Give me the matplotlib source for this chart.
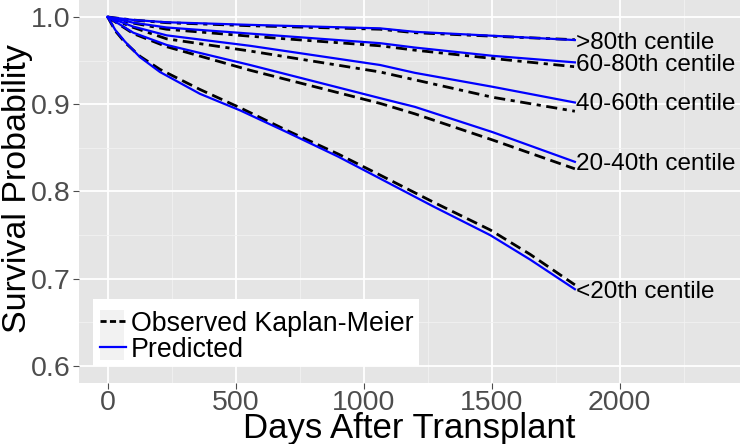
import matplotlib
matplotlib.use("Agg")
import matplotlib.pyplot as plt
from matplotlib.ticker import MultipleLocator
from matplotlib.patches import Rectangle

plt.rcParams['font.family'] = ['Liberation Sans', 'DejaVu Sans']

# days after transplant (shared grid)
days = [0, 100, 230, 556, 1064, 1200, 1504, 1825]

# predicted survival by centile group
pred_80 = [1.0, 0.9966, 0.994, 0.991, 0.987, 0.983, 0.9785, 0.9736]
pred_60 = [1.0, 0.9935, 0.988, 0.981, 0.970, 0.965, 0.9555, 0.948]
pred_40 = [1.0, 0.989, 0.979, 0.967, 0.945, 0.936, 0.920, 0.902]
pred_20 = [1.0, 0.982, 0.968, 0.945, 0.907, 0.897, 0.868, 0.834]

# observed Kaplan-Meier
obs_80 = [1.0, 0.9965, 0.9935, 0.990, 0.986, 0.982, 0.978, 0.974]
obs_60 = [1.0, 0.993, 0.986, 0.978, 0.967, 0.962, 0.9525, 0.943]
obs_40 = [1.0, 0.988, 0.975, 0.961, 0.937, 0.928, 0.908, 0.892]
obs_20 = [1.0, 0.981, 0.966, 0.939, 0.901, 0.889, 0.859, 0.826]

# lowest group has its own finer grid
days_low = [0, 30, 67, 126, 204, 360, 517, 700, 900, 1063, 1271, 1494, 1650, 1825]
pred_low = [1.0, 0.985, 0.972, 0.954, 0.937, 0.912, 0.893, 0.868, 0.840, 0.815,
            0.783, 0.750, 0.722, 0.688]
obs_low = [1.0, 0.984, 0.971, 0.955, 0.940, 0.917, 0.896, 0.870, 0.843, 0.819,
           0.788, 0.756, 0.728, 0.693]

labels = ['>80th centile', '60-80th centile', '40-60th centile',
          '20-40th centile', '<20th centile']
label_y = [0.9705, 0.945, 0.900, 0.832, 0.685]

fig = plt.figure(figsize=(7.4, 4.44), dpi=100)
ax = fig.add_axes([0.1068, 0.1374, 0.8932, 0.8626])
ax.set_facecolor('#E5E5E5')

dashdot = (4, 2, 1.5, 2)
dash = (4, 2)
for o, d in [(obs_80, dashdot), (obs_60, dashdot), (obs_40, dashdot), (obs_20, dash)]:
    ax.plot(days, o, color='black', lw=2.0, dashes=d)
ax.plot(days_low, obs_low, color='black', lw=2.0, dashes=dash)
for p in [pred_80, pred_60, pred_40, pred_20]:
    ax.plot(days, p, color='blue', lw=1.6)
ax.plot(days_low, pred_low, color='blue', lw=1.6)

for lab, yv in zip(labels, label_y):
    ax.text(1830, yv, lab, fontsize=17.5, va='center', ha='left')

ax.set_xlim(-112, 2470)
ax.set_ylim(0.5805, 1.0195)
ax.xaxis.set_major_locator(MultipleLocator(500))
ax.xaxis.set_minor_locator(MultipleLocator(250))
ax.yaxis.set_major_locator(MultipleLocator(0.1))
ax.yaxis.set_minor_locator(MultipleLocator(0.05))
ax.grid(which='major', color='white', lw=1.3)
ax.grid(which='minor', color='#F2F2F2', lw=0.6)
ax.set_axisbelow(True)
for sp in ax.spines.values():
    sp.set_visible(False)
ax.tick_params(which='major', length=4, color='#4D4D4D', labelsize=20.5,
               labelcolor='#4D4D4D', width=0.8)
ax.tick_params(axis='x', which='major', pad=1)
ax.tick_params(axis='y', which='major', pad=2)
ax.tick_params(which='minor', length=0)
ax.set_yticks([0.6, 0.7, 0.8, 0.9, 1.0])
ax.set_yticklabels(['0.6', '0.7', '0.8', '0.9', '1.0'])
ax.set_xlabel('Days After Transplant', fontsize=25, labelpad=-2.5)
ax.set_ylabel('Survival Probability', fontsize=24.5)
ax.yaxis.set_label_coords(-0.0696, 0.508)

# white legend box (ggplot style, with empty title row)
ax.add_patch(Rectangle((0.0212, 0.0444), 0.4932, 0.1749, transform=ax.transAxes,
                       facecolor='white', edgecolor='none', zorder=4))
ax.add_patch(Rectangle((0.0318, 0.060), 0.0362, 0.1306, transform=ax.transAxes,
                       facecolor='#F2F2F2', edgecolor='none', zorder=4.5))
h1, = ax.plot([], [], color='black', lw=2.0, dashes=(2.2, 1.2))
h2, = ax.plot([], [], color='blue', lw=1.6)
leg = ax.legend([h1, h2], ['Observed Kaplan-Meier', 'Predicted'],
                loc='center left', bbox_to_anchor=(0.0318, 0.121), fontsize=19.3,
                frameon=False, handlelength=0.95, handletextpad=0.2,
                labelspacing=0.0, borderpad=0, borderaxespad=0)
leg.set_zorder(5)

fig.savefig('out.png', dpi=100)
